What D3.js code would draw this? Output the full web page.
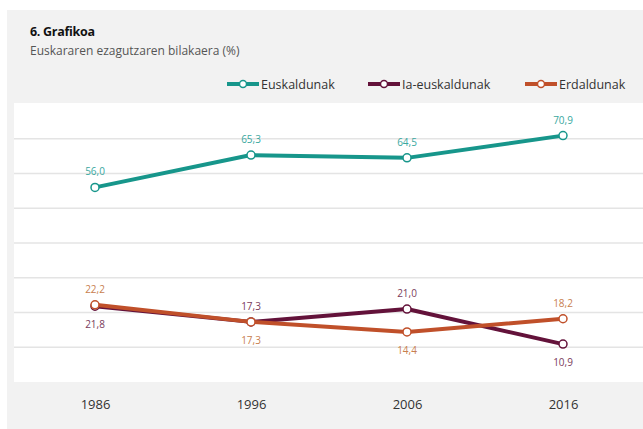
<!DOCTYPE html>
<html>
<head>
<meta charset="utf-8">
<script src="https://cdn.jsdelivr.net/npm/d3@7"></script>
<style>
  body { margin: 0; background: #fff; }
  svg { display: block; font-family: "Open Sans", "Noto Sans", sans-serif; }
</style>
</head>
<body>
<div class="app"></div>
<script>
'use strict'

var years = ["1986", "1996", "2006", "2016"];
var euskaldunak = [56.0, 65.3, 64.5, 70.9];
var iaEuskaldunak = [21.8, 17.3, 21.0, 10.9];
var erdaldunak = [22.2, 17.3, 14.4, 18.2];
var yTicks = [10, 20, 30, 40, 50, 60, 70];
var seriesNames = ["Euskaldunak", "Ia-euskaldunak", "Erdaldunak"];

// label above (-1) or below (+1) each point
var labelSide = [
  [-1, -1, -1, -1],
  [1, -1, -1, 1],
  [-1, 1, 1, -1]
];

var series = [
  {name: seriesNames[0], values: euskaldunak, color: "#17968b", label: "#3aa8a0"},
  {name: seriesNames[1], values: iaEuskaldunak, color: "#63123a", label: "#7a3c5c"},
  {name: seriesNames[2], values: erdaldunak, color: "#c0502a", label: "#c8804f"}
];

var W = 643, H = 429;

var svg = d3.select(".app").append("svg")
  .attr("width", W)
  .attr("height", H);

// fondo gris
svg.append("rect")
  .attr("x", 7).attr("y", 10)
  .attr("width", W - 7).attr("height", H - 10)
  .attr("fill", "#f2f2f2");

// area blanca
var plot = {left: 14, right: 643, top: 103, bottom: 382};
svg.append("rect")
  .attr("x", plot.left).attr("y", plot.top)
  .attr("width", plot.right - plot.left).attr("height", plot.bottom - plot.top)
  .attr("fill", "#ffffff");

svg.append("text")
  .attr("x", 30).attr("y", 36)
  .attr("font-size", 12.5)
  .attr("font-weight", "bold")
  .attr("fill", "#111")
  .attr("letter-spacing", -0.3)
  .text("6. Grafikoa");

svg.append("text")
  .attr("x", 30).attr("y", 55)
  .attr("font-size", 12)
  .attr("fill", "#555")
  .text("Euskararen ezagutzaren bilakaera (%)");

var x = d3.scalePoint().domain(years).range([95, 563]);
var y = d3.scaleLinear().domain([0, 80]).range([plot.bottom, plot.top + 1]);

// lineas de la cuadricula
svg.append("g")
  .selectAll("line")
  .data(yTicks)
  .join("line")
  .attr("x1", plot.left)
  .attr("x2", plot.right)
  .attr("y1", function(d) { return y(d); })
  .attr("y2", function(d) { return y(d); })
  .attr("stroke", "#e4e4e4")
  .attr("stroke-width", 1.5);

// eje X
var xAxis = d3.axisBottom(x).tickSize(0).tickPadding(0);
var gx = svg.append("g")
  .attr("transform", "translate(0," + 400 + ")")
  .call(xAxis);
gx.select(".domain").remove();
gx.selectAll("text")
  .attr("font-size", 13)
  .attr("font-family", "'Open Sans', sans-serif")
  .attr("fill", "#333");

var line = d3.line()
  .x(function(d, i) { return x(years[i]); })
  .y(function(d) { return y(d); });

series.forEach(function(s, si) {
  var g = svg.append("g");
  g.append("path")
    .attr("d", line(s.values))
    .attr("fill", "none")
    .attr("stroke", s.color)
    .attr("stroke-width", 4)
    .attr("stroke-linejoin", "round");

  g.selectAll("circle")
    .data(s.values)
    .join("circle")
    .attr("cx", function(d, i) { return x(years[i]); })
    .attr("cy", function(d) { return y(d); })
    .attr("r", 4)
    .attr("fill", "#fff")
    .attr("stroke", s.color)
    .attr("stroke-width", 1.5);

  g.selectAll("text")
    .data(s.values)
    .join("text")
    .attr("x", function(d, i) { return x(years[i]); })
    .attr("y", function(d, i) {
      return labelSide[si][i] < 0 ? y(d) - 12 : y(d) + 22;
    })
    .attr("text-anchor", "middle")
    .attr("font-size", 10)
    .attr("fill", s.label)
    .text(function(d) { return d.toFixed(1).replace(".", ","); });
});

// leyenda
var legendX = [227, 368, 525];
var legend = svg.append("g");
series.forEach(function(s, i) {
  var lg = legend.append("g").attr("transform", "translate(" + legendX[i] + ",84)");
  lg.append("line")
    .attr("x1", 0).attr("x2", 32)
    .attr("y1", 0).attr("y2", 0)
    .attr("stroke", s.color)
    .attr("stroke-width", 4);
  lg.append("circle")
    .attr("cx", 16).attr("cy", 0).attr("r", 3.5)
    .attr("fill", "#fff")
    .attr("stroke", s.color)
    .attr("stroke-width", 1.5);
  lg.append("text")
    .attr("x", 34).attr("y", 4.5)
    .attr("font-size", 12.5)
    .attr("fill", "#333")
    .text(s.name);
});
</script>
</body>
</html>
